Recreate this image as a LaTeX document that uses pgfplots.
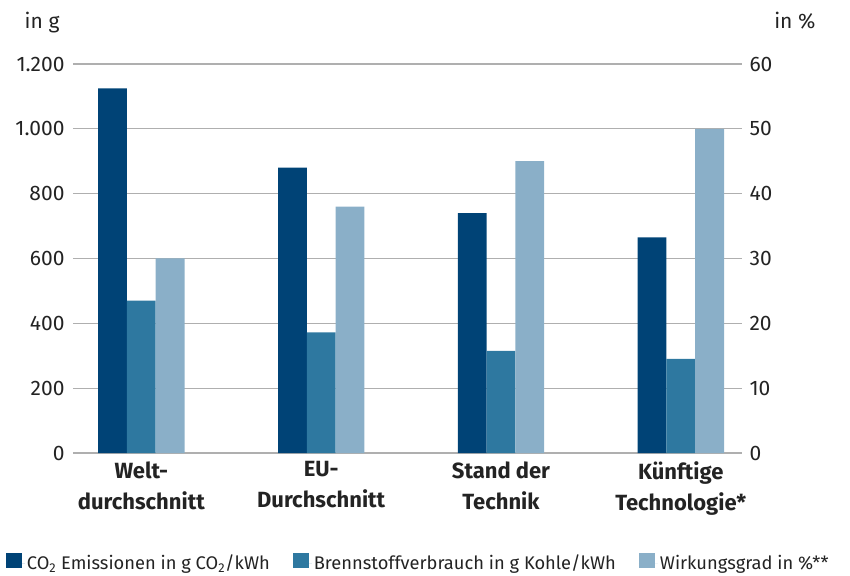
\documentclass[border=0pt]{standalone}
\usepackage{fontspec}
\setmainfont{Fira Sans}
\usepackage{pgfplots}
\pgfplotsset{compat=1.18}
\definecolor{c1}{RGB}{0,67,118}
\definecolor{c2}{RGB}{46,120,160}
\definecolor{c3}{RGB}{138,175,200}
\definecolor{gridc}{RGB}{175,175,175}
\definecolor{txt}{RGB}{35,35,35}
\pgfplotstableread{
x co2 brenn wirk
0 1125 470 30
1 880 372 38
2 740 315 45
3 665 290 50
}\datatable
\begin{document}
\begin{tikzpicture}[font=\fontsize{21bp}{25bp}\selectfont, text=txt]
\pgfplotsset{
  base/.style={
    width=669bp, height=389bp, scale only axis,
    xmin=-0.38, xmax=3.34, ymin=0,
    axis line style={draw=none},
    major tick length=0pt,
    bar width=0.16,
    clip=false,
    /pgf/number format/assume math mode=true,
    /pgf/number format/.cd, use comma, 1000 sep={.}, /pgfplots/.cd,
    ticklabel style={font=\fontsize{21bp}{25bp}\selectfont},
  }
}
\begin{axis}[base,
  ybar,
  legend image code/.code={\path (0bp,0bp) -- (19bp,0bp); \fill[#1,draw=none] (0bp,-5bp) rectangle (16bp,10bp);},
  ymax=1200, ytick={0,200,...,1200},
  yticklabel style={xshift=-5bp},
  ymajorgrids, grid style={gridc, line width=1.3bp},
  xtick={0,1,2,3},
  xticklabels={Welt-\\durchschnitt, EU-\\Durchschnitt, Stand der\\Technik, Künftige\\Technologie*},
  xticklabel style={align=center, font=\fontsize{22bp}{31bp}\selectfont\bfseries, yshift=-5bp},
  legend style={at={(axis description cs:-0.105,-0.315)}, anchor=south west, draw=none, fill=none,
    legend columns=3, font=\fontsize{18.3bp}{20bp}\selectfont,
    /tikz/every even column/.append style={column sep=21bp}},
  legend cell align=left,
]
\addplot[fill=c1, draw=none, bar shift=-0.16] table[x=x,y=co2]{\datatable};
\addlegendentry{CO\textsubscript{2} Emissionen in g CO\textsubscript{2}/kWh}
\addplot[fill=c2, draw=none, bar shift=0] table[x=x,y=brenn]{\datatable};
\addlegendentry{Brennstoffverbrauch in g Kohle/kWh}
\addlegendimage{fill=c3, draw=none}
\addlegendentry{Wirkungsgrad in \%**}
\node[anchor=base east] at (axis description cs:-0.015,1.0925) {in g};
\node[anchor=base west] at (axis description cs:1.043,1.0925) {in \%};
\end{axis}
\begin{axis}[base,
  ybar,
  axis y line*=right,
  ymax=60, ytick={0,10,...,60},
  yticklabel style={xshift=4bp},
  xtick=\empty,
]
\addplot[fill=c3, draw=none, bar shift=0.16] table[x=x,y=wirk]{\datatable};
\end{axis}
\pgfresetboundingbox
\path[use as bounding box] (-73bp,-123bp) rectangle (777bp,453bp);
\end{tikzpicture}
\end{document}
